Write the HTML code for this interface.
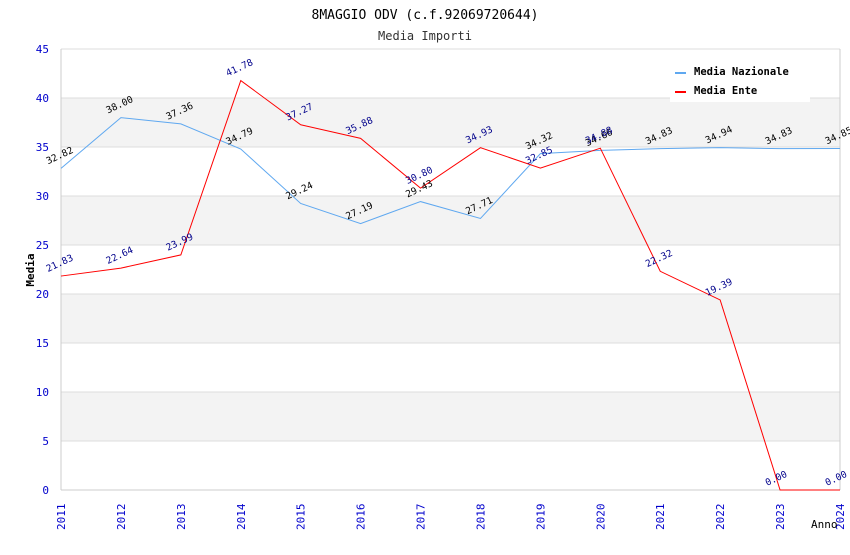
<!DOCTYPE html>
<html><head><meta charset="utf-8"><style>
body{margin:0;background:#fff}
svg text{font-family:"DejaVu Sans Mono","Liberation Mono",monospace}
</style></head><body>
<svg id="c" width="850" height="550" xmlns="http://www.w3.org/2000/svg">
<text x="425" y="19" text-anchor="middle" font-size="13" fill="#000">8MAGGIO ODV (c.f.92069720644)</text>
<text x="425" y="40" text-anchor="middle" font-size="12" fill="#333">Media Importi</text>
<g id="bands"></g><g id="grid"></g><g id="axes"></g><g id="series"></g><g id="labels"></g>
<g>
<rect x="670" y="60" width="140" height="42" fill="#fff"/>
<line x1="675" y1="73" x2="686" y2="73" stroke="#5fa8f0" stroke-width="2"/>
<text x="694" y="75" font-size="10.5" font-weight="bold">Media Nazionale</text>
<line x1="675" y1="92" x2="686" y2="92" stroke="#f00" stroke-width="2"/>
<text x="694" y="94" font-size="10.5" font-weight="bold">Media Ente</text>
</g>
<text x="34" y="270" font-size="11" font-weight="bold" transform="rotate(-90 34 270)" text-anchor="middle">Media</text>
<text x="811" y="528" font-size="11">Anno</text>
</svg>
<script>
const years=[2011,2012,2013,2014,2015,2016,2017,2018,2019,2020,2021,2022,2023,2024];
const nazionale=[32.82,38.00,37.36,34.79,29.24,27.19,29.43,27.71,34.32,34.66,34.83,34.94,34.83,34.85];
const ente=[21.83,22.64,23.99,41.78,37.27,35.88,30.80,34.93,32.85,34.88,22.32,19.39,0.00,0.00];
const yTicks=[0,5,10,15,20,25,30,35,40,45];
const NS='http://www.w3.org/2000/svg';
const x0=61,x1=840,yb=490,yt=49,ymax=45;
const X=i=>x0+(x1-x0)*i/(years.length-1);
const Y=v=>yb-(yb-yt)*v/ymax;
function mk(p,t,a){const e=document.createElementNS(NS,t);for(const k in a)e.setAttribute(k,a[k]);document.getElementById(p).appendChild(e);return e;}
for(let i=0;i<yTicks.length-1;i++){
 if(i%2===1){const r=mk('bands','rect',{x:x0,y:Y(yTicks[i+1]),width:x1-x0,height:Y(yTicks[i])-Y(yTicks[i+1]),fill:'#f3f3f3'});
 
 }
}
yTicks.forEach(v=>{
 const l=mk('grid','line',{x1:x0,x2:x1,y1:Y(v),y2:Y(v),stroke:'#ddd'});
 
 
 const t=mk('axes','text',{x:x0-12,y:Y(v)+4,'text-anchor':'end','font-size':11,fill:'#00c'});
 t.textContent=v;
 
 
});
mk('axes','line',{x1:x0,x2:x0,y1:yt,y2:yb,stroke:'#ccc'});
mk('axes','line',{x1:x1,x2:x1,y1:yt,y2:yb,stroke:'#ccc'});
mk('axes','line',{x1:x0,x2:x1,y1:yb,y2:yb,stroke:'#ccc'});
years.forEach((yr,i)=>{
 const t=mk('axes','text',{x:X(i)+4,y:yb+40,'font-size':11,fill:'#00c',transform:`rotate(-90 ${X(i)+4} ${yb+40})`});
 t.textContent=yr;
 
 
});
function series(d,col,lab,name){
 const p=mk('series','polyline',{points:d.map((v,i)=>X(i)+','+Y(v)).join(' '),fill:'none',stroke:col,'stroke-width':1});
 
 
 d.forEach((v,i)=>{
  const x=X(i)-13,y=Y(v)-4;
  const t=mk('labels','text',{x:x,y:y,'font-size':9.5,fill:lab,transform:`rotate(-25 ${x} ${y})`});
  t.textContent=v.toFixed(2);
  
  
 });
}
series(nazionale,'#5fa8f0','#000','line-nazionale');
series(ente,'#f00','#00008b','line-ente');
</script>
</body></html>
